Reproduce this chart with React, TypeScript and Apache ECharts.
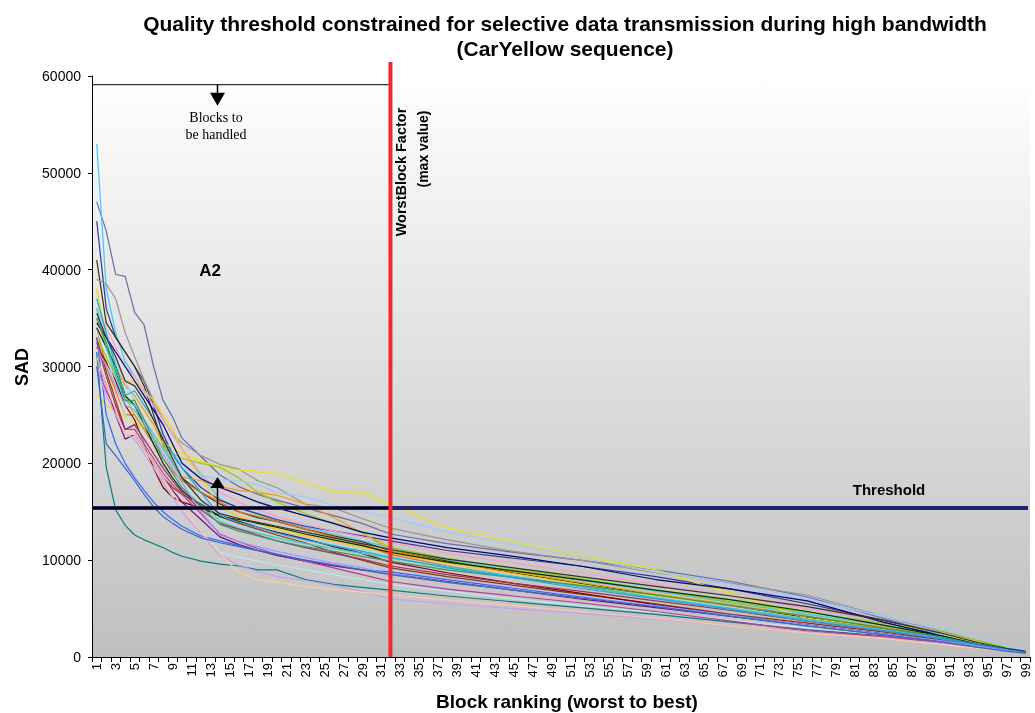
import React, { useEffect, useRef } from "react";
import * as echarts from "echarts";

const CATEGORIES: string[] = Array.from({ length: 99 }, (_, i) => String(i + 1));
const RANKS = [1, 2, 3, 4, 5, 6, 7, 8, 9, 10, 12, 14, 16, 18, 20, 23, 26, 29, 32, 38, 45, 52, 60, 68, 76, 84, 90, 94, 97, 99];

const S01 = [47000, 44000, 39500, 39300, 35600, 34300, 30000, 26500, 24800, 22600, 20700, 18800, 17600, 16800, 16200, 15400, 14600, 13800, 12700, 11700, 10800, 10000, 9000, 7800, 6200, 4000, 2400, 1400, 800, 600];
const S02 = [53000, 38000, 33500, 30500, 29000, 27500, 26000, 24500, 23000, 21500, 18800, 16300, 15400, 14700, 14100, 13400, 12700, 12000, 11300, 10000, 8900, 7900, 6800, 5600, 4400, 3300, 2400, 1500, 900, 600];
const S03 = [45000, 36000, 33000, 31500, 30000, 28500, 26000, 23000, 21000, 19500, 17500, 16200, 15400, 14800, 14200, 13500, 13000, 12500, 12000, 11000, 10200, 9400, 8300, 7000, 5500, 3800, 2200, 1300, 800, 500];
const S04 = [41000, 34500, 33000, 31500, 30000, 28000, 25000, 22000, 20000, 18500, 17000, 15800, 15000, 14400, 14000, 13200, 12500, 11900, 11000, 9900, 8700, 7600, 6400, 5300, 4100, 3000, 2100, 1300, 800, 500];
const S05 = [39000, 38500, 37000, 33500, 31000, 28600, 26500, 24500, 23000, 22100, 20800, 19900, 19400, 18200, 17500, 15800, 15400, 14300, 13300, 12100, 10900, 10000, 8700, 7600, 6400, 4200, 2700, 1700, 1000, 700];
const S06 = [27000, 26000, 25300, 24800, 24300, 23600, 22800, 22200, 21600, 21000, 20200, 19600, 19300, 19100, 18900, 18000, 17000, 17000, 15800, 13300, 11800, 10400, 9000, 6500, 4000, 3000, 2100, 1400, 900, 600];
const S07 = [38000, 33000, 30500, 28500, 28500, 27500, 26500, 25000, 23500, 21500, 18500, 15500, 14500, 13800, 13200, 12500, 11900, 11300, 10700, 9700, 8600, 7500, 6300, 5300, 4200, 3100, 2300, 1500, 900, 600];
const S08 = [35000, 32000, 30000, 28000, 27000, 25500, 24000, 22000, 20000, 18600, 18200, 17600, 17200, 17000, 16700, 15800, 14400, 12800, 11000, 9800, 8800, 7700, 6500, 5400, 4200, 3100, 2200, 1400, 900, 500];
const S09 = [34000, 30000, 27500, 25000, 25000, 23500, 22000, 20500, 19200, 18200, 17000, 16000, 15000, 14500, 14000, 13200, 12400, 11600, 10600, 9400, 8300, 7300, 6100, 5000, 3900, 2900, 2000, 1300, 800, 500];
const S10 = [33000, 29500, 26500, 23500, 24000, 22000, 20000, 18500, 17500, 16800, 15800, 14500, 13800, 13200, 12600, 11800, 10800, 10000, 9200, 8300, 7400, 6500, 5500, 4400, 3500, 2600, 1800, 1200, 700, 500];
const S11 = [32000, 30500, 28500, 26000, 24500, 22000, 19500, 17500, 16500, 16000, 15400, 14600, 14000, 13400, 12900, 12200, 11400, 10700, 9800, 8700, 7600, 6600, 5400, 4300, 3300, 2400, 1700, 1100, 700, 400];
const S12 = [31500, 19600, 15200, 13600, 12600, 12100, 11700, 11300, 10800, 10400, 9900, 9600, 9400, 9000, 9000, 8000, 7500, 7200, 6900, 6300, 5700, 5100, 4400, 3600, 2800, 2200, 1600, 1100, 700, 400];
const S13 = [36000, 34000, 32000, 30000, 29000, 27500, 26000, 24500, 23000, 21500, 19000, 17000, 16000, 15200, 14500, 13700, 13000, 12400, 11800, 10700, 9700, 8700, 7500, 6300, 5000, 3600, 2500, 1700, 1000, 700];
const S14 = [34000, 31000, 28000, 25000, 24000, 22000, 20000, 18000, 16500, 15000, 13000, 10800, 10300, 9900, 9500, 9000, 8500, 8000, 7500, 6800, 6000, 5300, 4600, 3800, 3000, 2300, 1700, 1200, 800, 500];
const S15 = [33000, 31000, 29000, 27000, 25000, 23500, 22500, 21700, 21000, 20500, 20000, 19600, 18500, 17000, 16000, 14800, 13800, 12800, 11300, 10200, 9100, 8100, 6900, 5700, 4600, 3500, 2600, 1700, 1000, 600];
const S16 = [34000, 32000, 30000, 27000, 26000, 24000, 22000, 20000, 18500, 17200, 15600, 14500, 14200, 13800, 13400, 12700, 12100, 11500, 10800, 9800, 8900, 8000, 6900, 5900, 4700, 3300, 2200, 1300, 800, 500];
const S17 = [31000, 28000, 25000, 22500, 23000, 21500, 20000, 18500, 17200, 16000, 14200, 12400, 11600, 11000, 10500, 9900, 9400, 9000, 8600, 7800, 6900, 6000, 5100, 4200, 3300, 2400, 1700, 1100, 700, 400];
const S18 = [30000, 27500, 25500, 23500, 23500, 22000, 20500, 19000, 17800, 16800, 14800, 12700, 11900, 11200, 10600, 9900, 9200, 8500, 7800, 7000, 6300, 5600, 4700, 3700, 2700, 2100, 1500, 1000, 600, 400];
const S19 = [33000, 25000, 22000, 20000, 18500, 17200, 16000, 15000, 14200, 13500, 12500, 12000, 11500, 11000, 10600, 10000, 9500, 9000, 8800, 8000, 7100, 6200, 5200, 4200, 3200, 2300, 1600, 1000, 600, 400];
const S20 = [30000, 27000, 25000, 23000, 22500, 21000, 19500, 18000, 16500, 15000, 12800, 10500, 9500, 8800, 8300, 7900, 7400, 6800, 6000, 5500, 5000, 4500, 3900, 3200, 2600, 1900, 1400, 900, 600, 400];
const S21 = [31000, 28000, 25500, 23000, 23000, 21500, 20000, 18500, 17000, 15500, 13000, 10700, 8700, 8000, 7700, 7300, 7000, 6700, 6400, 5900, 5300, 4700, 4000, 3200, 2500, 1900, 1300, 900, 600, 400];
const S22 = [36000, 33000, 30500, 28500, 26500, 24500, 23000, 21500, 20500, 19500, 18800, 18300, 18200, 17800, 17000, 16500, 15700, 15000, 14400, 12900, 11600, 10300, 8800, 7500, 6000, 4200, 2900, 1900, 1100, 700];
const S23 = [36000, 32000, 29000, 26500, 26000, 24500, 23000, 21500, 20000, 18500, 16200, 14000, 13300, 12800, 12300, 11700, 11200, 10700, 10200, 9300, 8300, 7300, 6100, 5000, 3900, 2800, 2000, 1300, 800, 500];
const S24 = [32500, 29000, 26000, 23500, 24000, 22500, 21000, 19500, 18200, 17000, 15200, 13800, 13200, 12600, 12000, 11300, 10700, 10100, 9400, 8500, 7600, 6800, 5800, 4800, 3700, 2700, 1900, 1200, 800, 500];
const S25 = [34500, 33000, 31500, 30000, 28500, 27000, 25500, 24000, 22000, 20000, 18400, 17500, 16800, 16000, 15400, 14600, 13800, 12900, 12300, 11300, 10400, 9400, 8000, 7000, 5800, 3600, 2200, 1300, 800, 500];
const S26 = [35000, 32500, 29500, 26500, 26500, 24500, 22500, 20500, 19000, 17500, 15600, 13700, 13000, 12500, 12000, 11400, 10900, 10400, 9900, 9000, 8200, 7400, 6400, 5300, 4200, 3000, 2100, 1300, 800, 500];
const S27 = [37000, 33500, 30000, 27000, 27500, 26000, 24500, 22500, 21000, 19500, 17000, 14600, 13900, 13400, 12800, 12100, 11500, 10900, 10300, 9200, 8200, 7100, 6000, 4900, 3700, 2700, 1900, 1200, 800, 500];
const S28 = [35500, 33000, 31000, 28500, 28000, 26500, 24500, 22500, 20500, 18500, 16200, 14800, 14300, 13900, 13500, 12900, 12300, 11700, 11100, 10100, 9200, 8300, 7300, 6300, 5200, 3800, 2500, 1500, 900, 600];
const S29 = [32000, 30000, 28000, 26000, 25500, 24000, 22500, 21000, 19500, 18000, 15000, 12600, 11900, 11400, 10900, 10300, 9700, 9200, 8600, 7700, 6900, 6100, 5300, 4300, 3300, 2400, 1700, 1100, 700, 400];
const S30 = [30000, 22000, 20800, 19500, 18200, 16800, 15500, 14500, 13800, 13200, 12300, 11800, 11400, 11000, 10600, 10000, 9500, 9000, 8500, 7700, 6900, 6100, 5200, 4200, 3200, 2300, 1600, 1000, 600, 400];

const SERIES_VALUES = [S01, S02, S03, S04, S05, S06, S07, S08, S09, S10, S11, S12, S13, S14, S15, S16, S17, S18, S19, S20, S21, S22, S23, S24, S25, S26, S27, S28, S29, S30];
const SERIES_COLORS = [
  "#6b6ba8", "#33ccff", "#333399", "#333300", "#969696", "#f2e200", "#ffcc00", "#ff9900", "#ff6600", "#993300",
  "#800000", "#008080", "#ff99cc", "#bde6f0", "#99cc00", "#003300", "#800080", "#cc3399", "#3366ff", "#cc99ff",
  "#ffcc99", "#99ccff", "#33cccc", "#993366", "#000080", "#339966", "#00b0f0", "#333333", "#9999ff", "#3366cc",
];

const THRESHOLD = 15400;
const WORST_BLOCK_RANK = "32";
const HANDLED_LINE_VALUE = 59100;

const FONT = '"Liberation Sans", Arial, sans-serif';

export default function App() {
  const ref = useRef<HTMLDivElement>(null);
  useEffect(() => {
    const chart = echarts.init(ref.current!, null, { renderer: "svg" });
    chart.setOption({
      animation: false,
      grid: {
        left: 92,
        right: 5,
        top: 76,
        bottom: 56,
        show: true,
        borderWidth: 0,
        backgroundColor: new echarts.graphic.LinearGradient(0, 0, 0, 1, [
          { offset: 0, color: "#ffffff" },
          { offset: 1, color: "#bfbfbf" },
        ]),
      },
      xAxis: {
        type: "category",
        data: CATEGORIES,
        boundaryGap: true,
        axisLine: { lineStyle: { color: "#000", width: 1 } },
        axisTick: { show: true, interval: 0, length: 5, lineStyle: { color: "#000" } },
        axisLabel: { interval: 1, rotate: 90, fontSize: 13, color: "#000", fontFamily: FONT, margin: 6 },
        splitLine: { show: false },
      },
      yAxis: {
        type: "value",
        min: 0,
        max: 60000,
        interval: 10000,
        axisLine: { show: true, lineStyle: { color: "#000", width: 1 } },
        axisTick: { show: true, length: 4, lineStyle: { color: "#000" } },
        axisLabel: { fontSize: 14, color: "#000", fontFamily: FONT, margin: 11, formatter: (v: number) => String(v) },
        splitLine: { show: false },
      },
      series: SERIES_VALUES.map((vals, i) => ({
        type: "line",
        name: "s" + (i + 1),
        symbol: "none",
        silent: true,
        lineStyle: { width: 1.2, color: SERIES_COLORS[i] },
        data: RANKS.map((r, j) => [String(r), vals[j]]),
        z: 2,
      })),
    });

    const redX = chart.convertToPixel({ xAxisIndex: 0 }, WORST_BLOCK_RANK) as number;
    const thrY = chart.convertToPixel({ yAxisIndex: 0 }, THRESHOLD) as number;
    const topY = chart.convertToPixel({ yAxisIndex: 0 }, HANDLED_LINE_VALUE) as number;
    const zeroY = chart.convertToPixel({ yAxisIndex: 0 }, 0) as number;
    const gridLeft = 92;
    const arrowX = 217.5;

    chart.setOption({
      graphic: [
        {
          type: "text", x: 565, y: 23, z: 100,
          style: { text: "Quality threshold constrained for selective data transmission during high bandwidth", font: `bold 21px ${FONT}`, fill: "#000", textAlign: "center", textVerticalAlign: "middle" },
        },
        {
          type: "text", x: 565, y: 48, z: 100,
          style: { text: "(CarYellow sequence)", font: `bold 21px ${FONT}`, fill: "#000", textAlign: "center", textVerticalAlign: "middle" },
        },
        {
          type: "text", x: 567, y: 701, z: 100,
          style: { text: "Block ranking (worst to best)", font: `bold 19px ${FONT}`, fill: "#000", textAlign: "center", textVerticalAlign: "middle" },
        },
        {
          type: "text", x: 22, y: 367, rotation: Math.PI / 2, z: 100,
          style: { text: "SAD", font: `bold 18px ${FONT}`, fill: "#000", textAlign: "center", textVerticalAlign: "middle" },
        },
        { type: "line", z: 100, shape: { x1: gridLeft, y1: topY, x2: redX - 2, y2: topY }, style: { stroke: "#000", lineWidth: 1 } },
        { type: "line", z: 100, shape: { x1: arrowX, y1: topY, x2: arrowX, y2: topY + 10 }, style: { stroke: "#000", lineWidth: 1.5 } },
        { type: "polygon", z: 100, shape: { points: [[arrowX - 7.5, topY + 8], [arrowX + 7.5, topY + 8], [arrowX, topY + 21]] }, style: { fill: "#000" } },
        {
          type: "text", x: 216, y: 117, z: 100,
          style: { text: "Blocks to", font: `14px "Liberation Serif", serif`, fill: "#000", textAlign: "center", textVerticalAlign: "middle" },
        },
        {
          type: "text", x: 216, y: 134, z: 100,
          style: { text: "be handled", font: `14px "Liberation Serif", serif`, fill: "#000", textAlign: "center", textVerticalAlign: "middle" },
        },
        {
          type: "text", x: 210, y: 270, z: 100,
          style: { text: "A2", font: `bold 17px ${FONT}`, fill: "#000", textAlign: "center", textVerticalAlign: "middle" },
        },
        { type: "line", z: 90, shape: { x1: gridLeft, y1: thrY, x2: 1028, y2: thrY }, style: { stroke: "#23236e", lineWidth: 4 } },
        { type: "line", z: 91, shape: { x1: gridLeft, y1: thrY, x2: redX, y2: thrY }, style: { stroke: "#000", lineWidth: 2 } },
        {
          type: "text", x: 889, y: 489, z: 100,
          style: { text: "Threshold", font: `bold 15px ${FONT}`, fill: "#000", textAlign: "center", textVerticalAlign: "middle" },
        },
        { type: "line", z: 100, shape: { x1: arrowX, y1: thrY, x2: arrowX, y2: thrY - 22 }, style: { stroke: "#000", lineWidth: 1.5 } },
        { type: "polygon", z: 100, shape: { points: [[arrowX - 7, thrY - 20], [arrowX + 7, thrY - 20], [arrowX, thrY - 31]] }, style: { fill: "#000" } },
        { type: "line", z: 95, shape: { x1: redX, y1: 62, x2: redX, y2: zeroY }, style: { stroke: "#ee2a30", lineWidth: 4 } },
        {
          type: "text", x: 401, y: 172, rotation: Math.PI / 2, z: 100,
          style: { text: "WorstBlock Factor", font: `bold 14.5px ${FONT}`, fill: "#000", textAlign: "center", textVerticalAlign: "middle" },
        },
        {
          type: "text", x: 423, y: 149, rotation: Math.PI / 2, z: 100,
          style: { text: "(max value)", font: `bold 14px ${FONT}`, fill: "#000", textAlign: "center", textVerticalAlign: "middle" },
        },
      ],
    });
    return () => chart.dispose();
  }, []);
  return <div ref={ref} style={{ position: "fixed", left: 0, top: 0, width: 1035, height: 713 }} />;
}
